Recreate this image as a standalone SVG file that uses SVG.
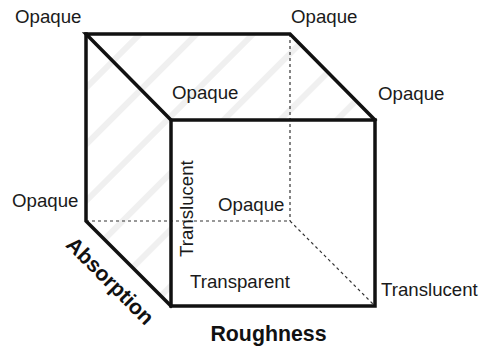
<svg xmlns="http://www.w3.org/2000/svg" width="482" height="351" viewBox="0 0 482 351">
  <style>
    .lbl { font-family: "Liberation Sans", Arial, sans-serif; font-size: 18.67px; fill: #1a1a1a; }
    .axis { font-family: "Liberation Sans", Arial, sans-serif; font-size: 21.33px; font-weight: bold; fill: #111; }
    .edge { stroke: #111; stroke-width: 3.5; fill: none; stroke-linejoin: miter; stroke-linecap: square; }
    .hidden { stroke: #333; stroke-width: 1.2; stroke-dasharray: 3 3; fill: none; }
  </style>
  <defs>
    <pattern id="hatch" patternUnits="userSpaceOnUse" width="40" height="10" patternTransform="rotate(45)">
      <rect x="0" y="0" width="6" height="10" fill="#f0f0f0"/>
    </pattern>
    <clipPath id="shadedFaces">
      <polygon points="86,34 290,34 375,120 171,120 171,306 86,221"/>
    </clipPath>
  </defs>

  <rect width="482" height="351" fill="#fff"/>

  <!-- hatched left and top faces -->
  <g id="faces">
    <rect x="80" y="30" width="300" height="280" fill="url(#hatch)" clip-path="url(#shadedFaces)"/>
  </g>

  <!-- cube edges -->
  <g id="edges">
    <line class="hidden" x1="86" y1="221" x2="290" y2="221"/>
    <line class="hidden" x1="290" y1="34" x2="290" y2="221"/>
    <line class="hidden" x1="290" y1="221" x2="375" y2="306"/>
    <polyline class="edge" points="171,120 86,34 290,34 375,120"/>
    <polyline class="edge" points="86,34 86,221 171,306"/>
    <rect class="edge" x="171" y="120" width="204" height="186"/>
  </g>

  <!-- corner labels -->
  <g id="labels">
    <text class="lbl" x="15" y="23">Opaque</text>
    <text class="lbl" x="291" y="23">Opaque</text>
    <text class="lbl" x="172" y="99">Opaque</text>
    <text class="lbl" x="378" y="100">Opaque</text>
    <text class="lbl" x="12" y="207">Opaque</text>
    <text class="lbl" x="218" y="211">Opaque</text>
    <text class="lbl" x="190" y="288">Transparent</text>
    <text class="lbl" x="381" y="296">Translucent</text>
    <text class="lbl" transform="translate(193,257) rotate(-90)">Translucent</text>
  </g>

  <!-- axis titles -->
  <g id="axes">
    <text class="axis" text-anchor="middle" x="268.5" y="341">Roughness</text>
    <text class="axis" text-anchor="middle" transform="translate(110,281) rotate(45)" dy="7">Absorption</text>
  </g>
</svg>
